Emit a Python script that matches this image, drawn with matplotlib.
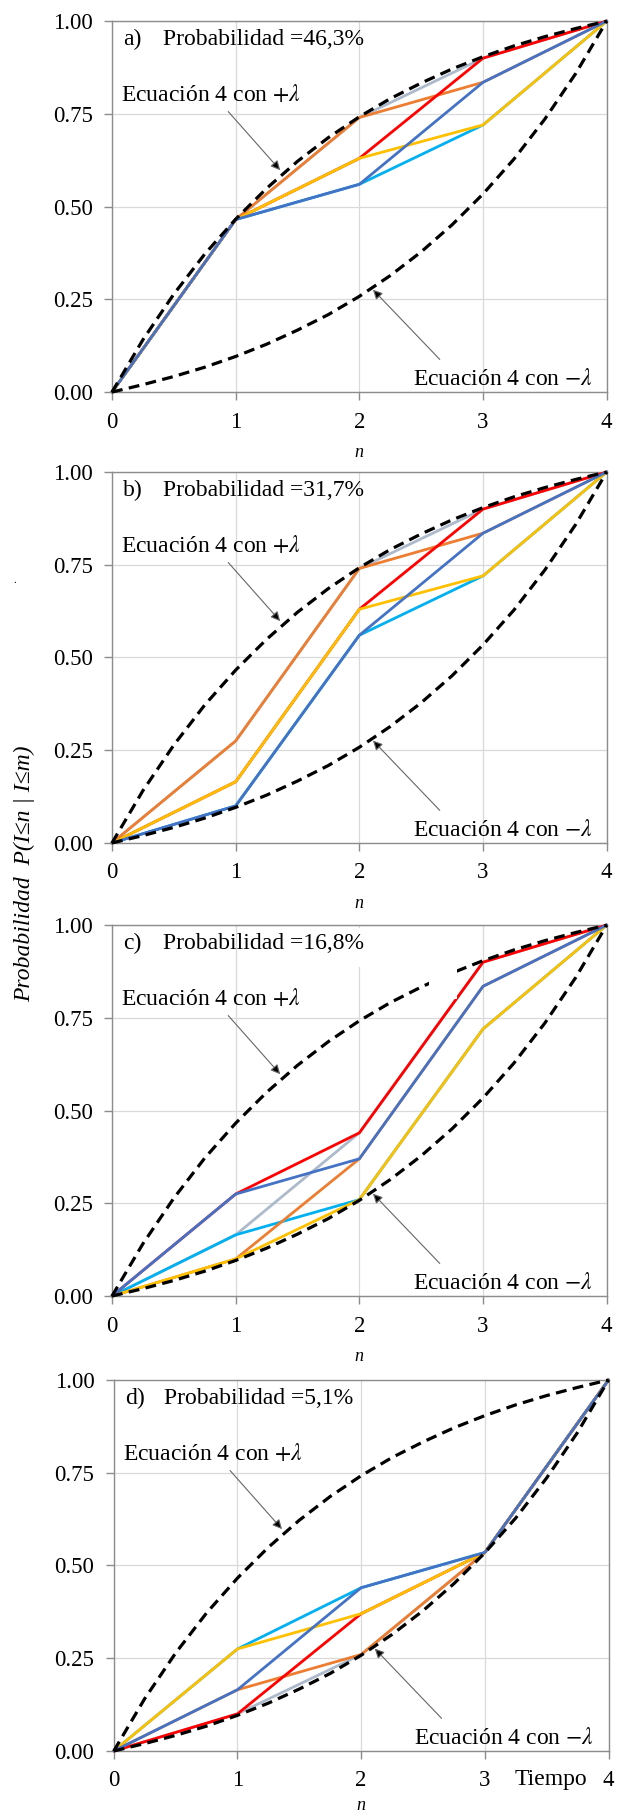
import matplotlib
matplotlib.use("Agg")
import matplotlib.pyplot as plt
from matplotlib.patches import Rectangle

plt.rcParams['font.family'] = ['Liberation Serif', 'DejaVu Serif']
plt.rcParams['mathtext.fontset'] = 'stix'

# tiempo n
n = [0, 1, 2, 3, 4]

n_fino = [0, 0.25, 0.5, 0.75, 1, 1.25, 1.5, 1.75, 2, 2.25, 2.5, 2.75, 3, 3.25, 3.5, 3.75, 4]
ec4_mas = [0, 0.141, 0.264, 0.372, 0.466, 0.549, 0.622, 0.686, 0.742, 0.791, 0.833, 0.871, 0.904, 0.933, 0.958, 0.980, 1.0]
ec4_menos = [0, 0.020, 0.042, 0.067, 0.096, 0.129, 0.167, 0.209, 0.258, 0.314, 0.378, 0.451, 0.534, 0.628, 0.736, 0.859, 1.0]

# trayectorias de cada panel
a_gris = [0, 0.465, 0.74, 0.90, 1]
a_cian = [0, 0.465, 0.56, 0.72, 1]
a_naranja = [0, 0.465, 0.74, 0.835, 1]
a_rojo = [0, 0.465, 0.63, 0.90, 1]
a_oro = [0, 0.465, 0.63, 0.72, 1]
a_azul = [0, 0.465, 0.56, 0.835, 1]

b_gris = [0, 0.275, 0.74, 0.90, 1]
b_cian = [0, 0.10, 0.56, 0.72, 1]
b_naranja = [0, 0.275, 0.74, 0.835, 1]
b_rojo = [0, 0.165, 0.63, 0.90, 1]
b_oro = [0, 0.165, 0.63, 0.72, 1]
b_azul = [0, 0.10, 0.56, 0.835, 1]

c_gris = [0, 0.165, 0.44, 0.90, 1]
c_cian = [0, 0.165, 0.26, 0.72, 1]
c_naranja = [0, 0.10, 0.37, 0.835, 1]
c_rojo = [0, 0.275, 0.44, 0.90, 1]
c_oro = [0, 0.10, 0.26, 0.72, 1]
c_azul = [0, 0.275, 0.37, 0.835, 1]

d_gris = [0, 0.10, 0.26, 0.535, 1]
d_cian = [0, 0.275, 0.44, 0.535, 1]
d_naranja = [0, 0.165, 0.26, 0.535, 1]
d_rojo = [0, 0.10, 0.37, 0.535, 1]
d_oro = [0, 0.275, 0.37, 0.535, 1]
d_azul = [0, 0.165, 0.44, 0.535, 1]

letras = ['a)', 'b)', 'c)', 'd)']
probabilidades = ['Probabilidad =46,3%', 'Probabilidad =31,7%', 'Probabilidad =16,8%', 'Probabilidad =5,1%']

paneles = [
    [a_gris, a_cian, a_naranja, a_rojo, a_oro, a_azul],
    [b_gris, b_cian, b_naranja, b_rojo, b_oro, b_azul],
    [c_gris, c_cian, c_naranja, c_rojo, c_oro, c_azul],
    [d_gris, d_cian, d_naranja, d_rojo, d_oro, d_azul],
]
colores = ['#ADBACB', '#00B0F0', '#ED7D31', '#FF0000', '#FFC000', '#4472C4']

fig = plt.figure(figsize=(6.2, 18.16), dpi=100)

bottoms = [0.7841, 0.5358, 0.2863, 0.0358]
lefts = [0.1806, 0.1806, 0.1806, 0.1835]
label_y = [-0.14, -0.14, -0.14, -0.125]
fs = 17

for i in range(4):
    ax = fig.add_axes([lefts[i], bottoms[i], 0.798, 0.2043])

    for serie, col in zip(paneles[i], colores):
        ax.plot(n, serie, color=col, lw=2.0, zorder=3, clip_on=False, solid_capstyle='round')

    ax.plot(n_fino, ec4_mas, color='black', lw=2.3, ls=(0, (3.4, 2.0)), zorder=4, clip_on=False)
    ax.plot(n_fino, ec4_menos, color='black', lw=2.3, ls=(0, (3.4, 2.0)), zorder=4, clip_on=False)

    if i == 2:
        # zona blanca que tapa la curva en el panel c
        ax.add_patch(Rectangle((1.97, 0.888), 0.83, 0.105, color='white', zorder=5, lw=0))
        ax.add_patch(Rectangle((2.56, 0.80), 0.23, 0.09, color='white', zorder=5, lw=0))

    ax.set_xlim(0, 4)
    ax.set_ylim(0, 1)
    ax.set_xticks([0, 1, 2, 3, 4])
    ax.set_yticks([0, 0.25, 0.5, 0.75, 1.0])
    ax.set_yticklabels(['0.00', '0.25', '0.50', '0.75', '1.00'])
    ax.tick_params(direction='out', length=5.5, width=1, color='#8C8C8C', labelsize=16.5)
    ax.tick_params(axis='y', pad=8.5)
    ax.tick_params(axis='x', pad=8.5)
    ax.grid(True, color='#D9D9D9', lw=0.9)
    ax.set_axisbelow(True)
    for s in ax.spines.values():
        s.set_color('#8C8C8C')
        s.set_linewidth(1)

    ax.set_xlabel('n', style='italic', fontsize=13)
    ax.xaxis.set_label_coords(0.5, label_y[i])

    ax.text(0.09, 0.951, letras[i], fontsize=fs, va='center', zorder=6)
    ax.text(0.41, 0.951, probabilidades[i], fontsize=fs, va='center', zorder=6)

    ax.text(0.075, 0.80, r'Ecuación 4 con $+\lambda$', fontsize=fs, va='center', zorder=6)
    ax.text(2.43, 0.035, r'Ecuación 4 con $-\lambda$', fontsize=fs, va='center', zorder=6)

    ax.annotate('', xy=(1.36, 0.598), xytext=(0.94, 0.756),
                arrowprops=dict(arrowstyle='-|>', mutation_scale=14, lw=0.8,
                                edgecolor='#666666', facecolor='black', shrinkA=0, shrinkB=0),
                zorder=6)
    ax.annotate('', xy=(2.11, 0.276), xytext=(2.65, 0.088),
                arrowprops=dict(arrowstyle='-|>', mutation_scale=14, lw=0.8,
                                edgecolor='#666666', facecolor='black', shrinkA=0, shrinkB=0),
                zorder=6)

    if i == 3:
        ax.text(3.24, -0.078, 'Tiempo', fontsize=fs, va='center', clip_on=False)

fig.text(0.04, 0.519, 'Probabilidad  P(I≤n | I≤m)', rotation=90, style='italic',
         fontsize=fs, ha='center', va='center')
fig.text(0.021, 0.679, '.', fontsize=8)

fig.savefig('out.png', dpi=100)
